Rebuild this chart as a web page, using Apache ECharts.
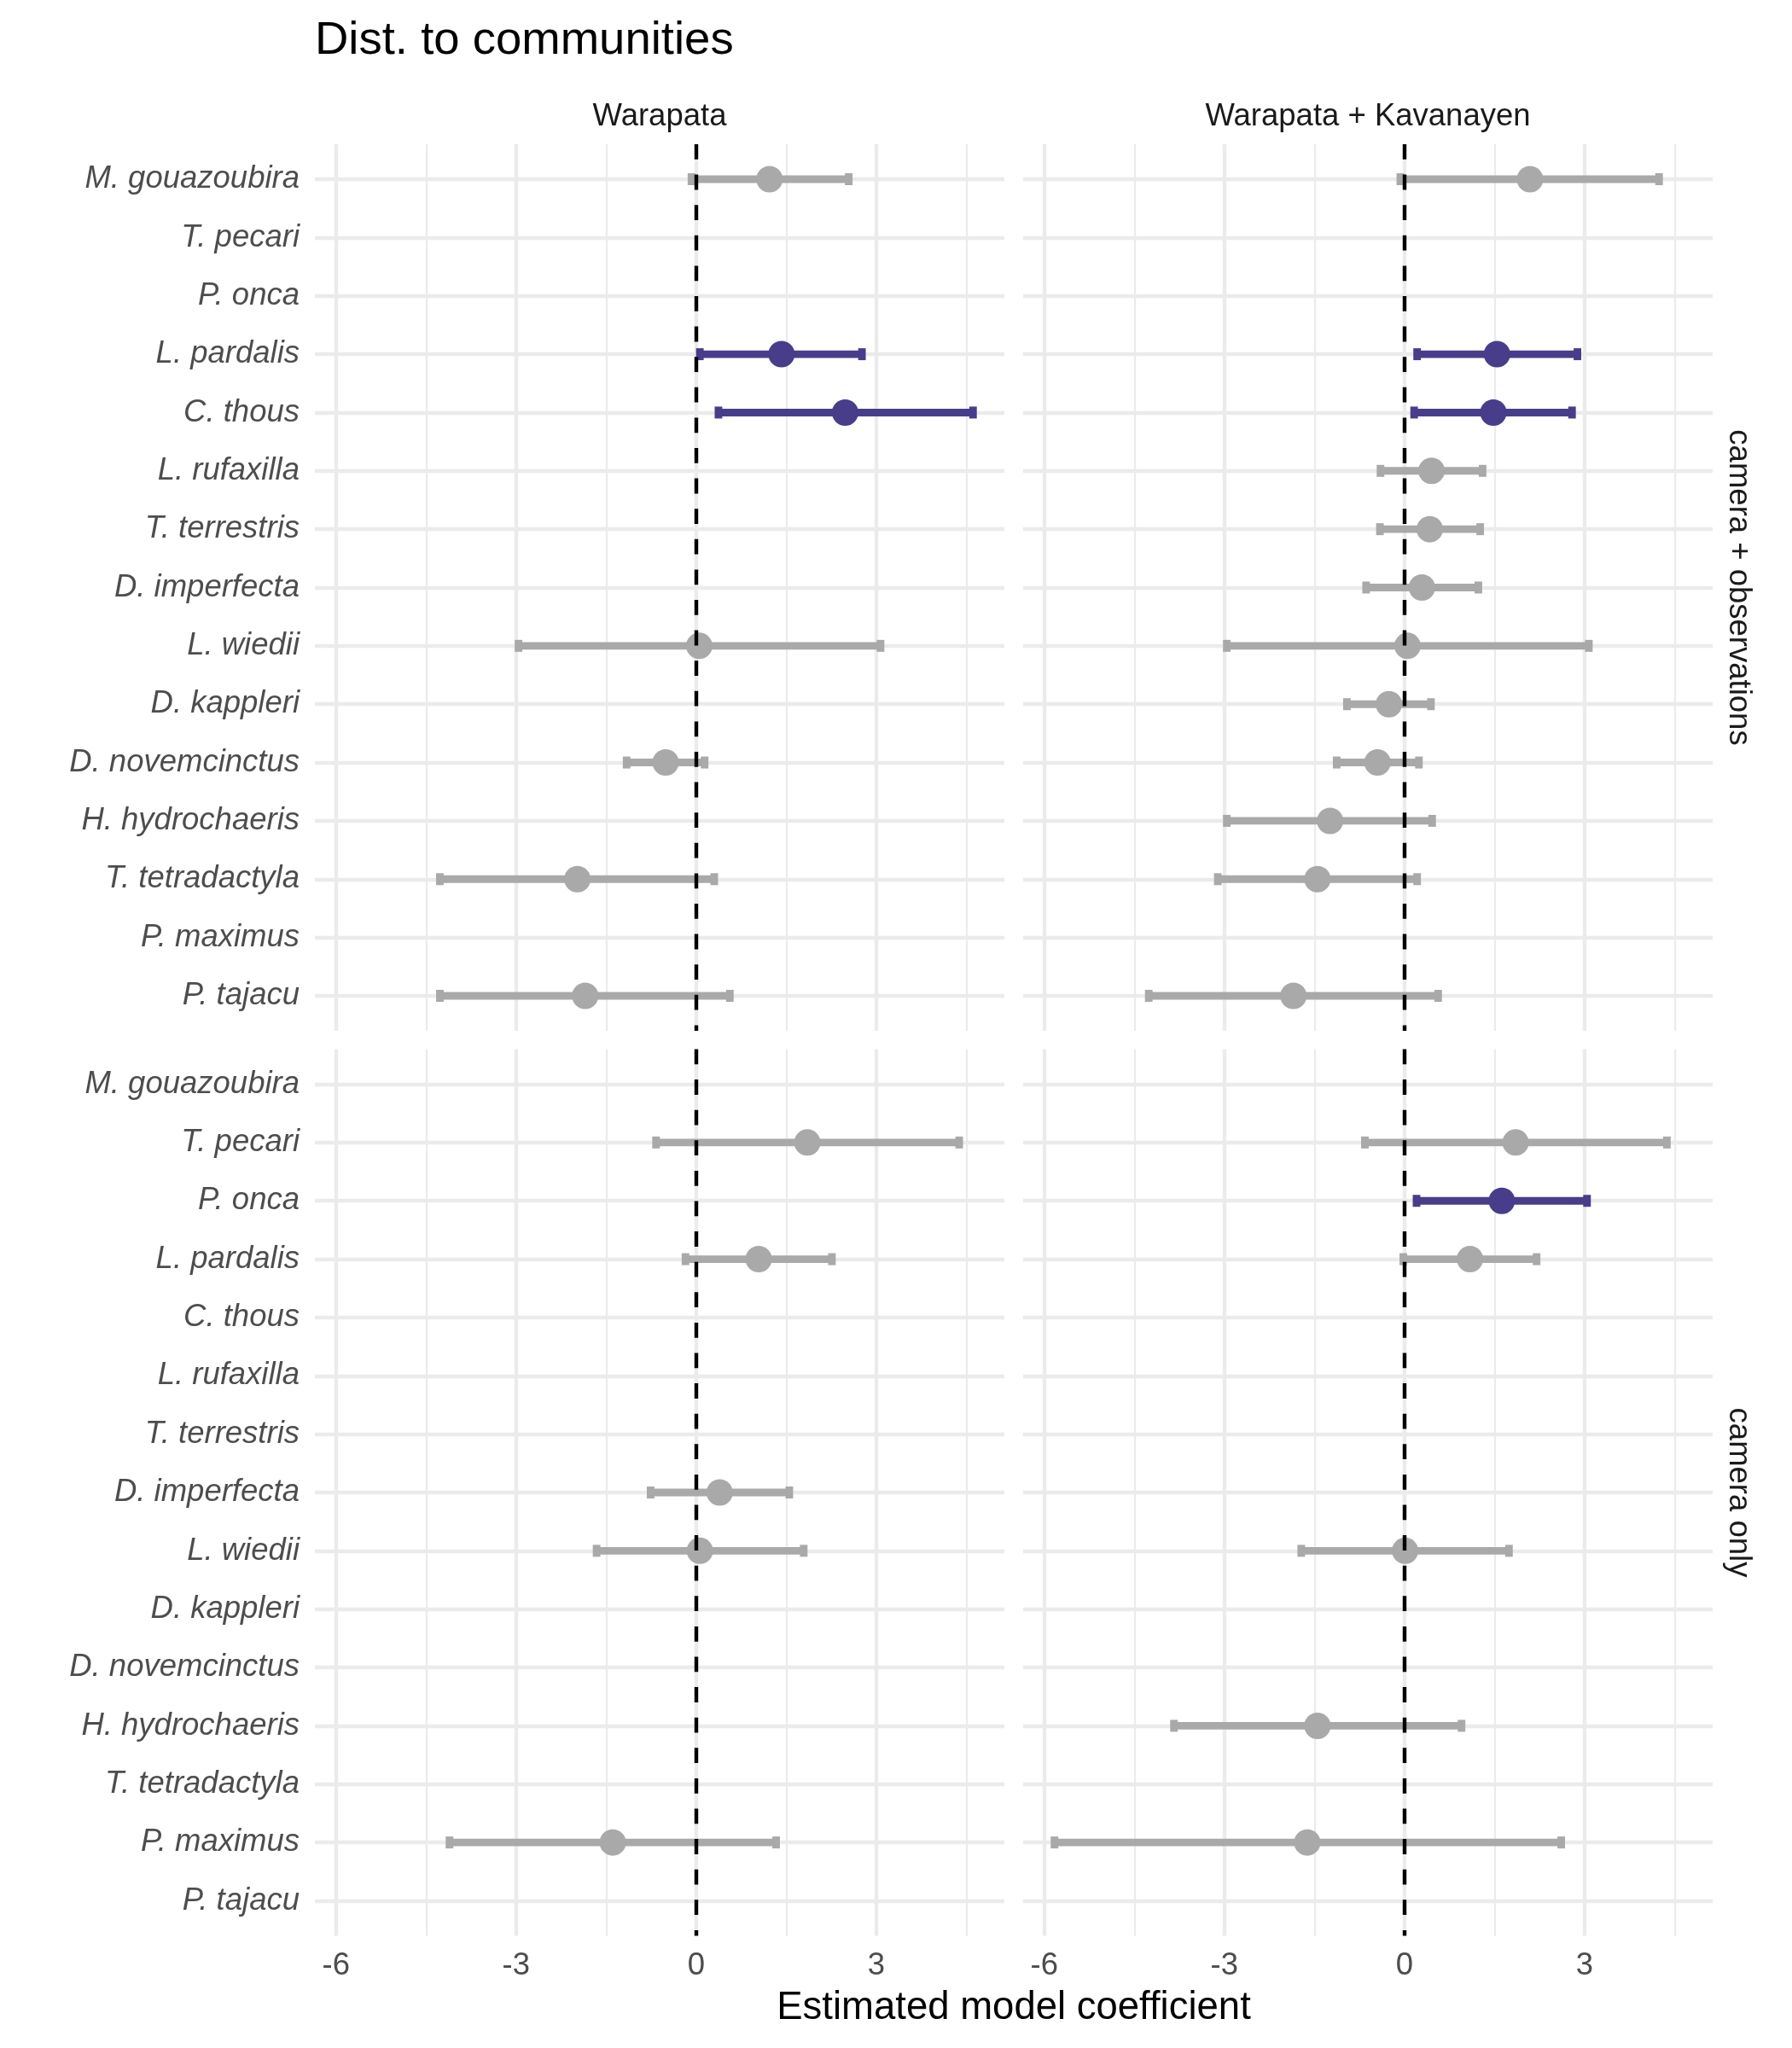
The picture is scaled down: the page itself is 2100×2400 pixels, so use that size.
<!DOCTYPE html>
<html><head><meta charset="utf-8">
<script src="https://cdn.jsdelivr.net/npm/echarts@6/dist/echarts.min.js"></script>
<style>html,body{margin:0;padding:0;background:#fff}#c{width:2100px;height:2400px}</style>
</head><body><div id="c"></div>
<script>
const species = ["M. gouazoubira","T. pecari","P. onca","L. pardalis","C. thous","L. rufaxilla","T. terrestris","D. imperfecta","L. wiedii","D. kappleri","D. novemcinctus","H. hydrochaeris","T. tetradactyla","P. maximus","P. tajacu"];
const columnLabels = ["Warapata", "Warapata + Kavanayen"];
const rowLabels = ["camera + observations", "camera only"];
const chartTitle = "Dist. to communities";
const xAxisTitle = "Estimated model coefficient";
const xTickValues = [-6, -3, 0, 3];
const xMinorValues = [-4.5, -1.5, 1.5, 4.5];

// camera + observations, Warapata
const obsWarEst = [1.22, null, null, 1.42, 2.48, null, null, null, 0.05, null, -0.51, null, -1.98, null, -1.85];
const obsWarLo  = [-0.08, null, null, 0.06, 0.37, null, null, null, -2.96, null, -1.16, null, -4.27, null, -4.27];
const obsWarHi  = [2.54, null, null, 2.76, 4.61, null, null, null, 3.07, null, 0.14, null, 0.30, null, 0.56];
// camera + observations, Warapata + Kavanayen
const obsKavEst = [2.09, null, null, 1.54, 1.48, 0.45, 0.42, 0.29, 0.05, -0.26, -0.45, -1.24, -1.45, null, -1.85];
const obsKavLo  = [-0.07, null, null, 0.21, 0.16, -0.40, -0.41, -0.64, -2.96, -0.96, -1.13, -2.96, -3.11, null, -4.26];
const obsKavHi  = [4.24, null, null, 2.88, 2.79, 1.30, 1.26, 1.23, 3.07, 0.44, 0.24, 0.46, 0.21, null, 0.56];
// camera only, Warapata
const camWarEst = [null, 1.85, null, 1.04, null, null, null, 0.39, 0.06, null, null, null, null, -1.39, null];
const camWarLo  = [null, -0.67, null, -0.18, null, null, null, -0.76, -1.66, null, null, null, null, -4.11, null];
const camWarHi  = [null, 4.38, null, 2.26, null, null, null, 1.55, 1.79, null, null, null, null, 1.33, null];
// camera only, Warapata + Kavanayen
const camKavEst = [null, 1.85, 1.62, 1.09, null, null, null, null, 0.01, null, null, -1.45, null, -1.62, null];
const camKavLo  = [null, -0.66, 0.20, -0.02, null, null, null, null, -1.72, null, null, -3.84, null, -5.83, null];
const camKavHi  = [null, 4.37, 3.04, 2.20, null, null, null, null, 1.74, null, null, 0.95, null, 2.61, null];

const panels = [
  {est: obsWarEst, lo: obsWarLo, hi: obsWarHi},
  {est: obsKavEst, lo: obsKavLo, hi: obsKavHi},
  {est: camWarEst, lo: camWarLo, hi: camWarHi},
  {est: camKavEst, lo: camKavLo, hi: camKavHi}
];

const GRAY = '#A9A9A9', PURPLE = '#483D8B', GRIDC = '#EBEBEB';
const FONT = 'Liberation Sans';
const panelLeft = [369, 1199], panelWidth = 808, panelTop = [169, 1229.5], panelHeight = 1039;

// shared x scale with 5% expansion like the original
const allLo = panels.flatMap(p => p.lo.filter(v => v !== null));
const allHi = panels.flatMap(p => p.hi.filter(v => v !== null));
const dMin = Math.min(...allLo), dMax = Math.max(...allHi);
const pad = 0.05 * (dMax - dMin);
const xMin = dMin - pad, xMax = dMax + pad;
const rowIdx = species.map((_, k) => k);

const grids = [], xAxes = [], yAxes = [], series = [];
panels.forEach((p, i) => {
  const col = i % 2, row = Math.floor(i / 2);
  grids.push({left: panelLeft[col], top: panelTop[row], width: panelWidth, height: panelHeight});
  xAxes.push({gridIndex: i, type: 'value', min: xMin, max: xMax,
    axisLine: {show: false}, axisTick: {show: false, customValues: xTickValues},
    axisLabel: {show: row === 1, customValues: xTickValues, color: '#4D4D4D', fontSize: 36.5, fontFamily: FONT, margin: 35.5, verticalAlign: 'middle'},
    splitLine: {show: true, lineStyle: {color: GRIDC, width: 4.4}}});
  xAxes.push({gridIndex: i, type: 'value', min: xMin, max: xMax,
    axisLine: {show: false}, axisTick: {show: false, customValues: xMinorValues},
    axisLabel: {show: false},
    splitLine: {show: true, lineStyle: {color: GRIDC, width: 2.2}}});
  yAxes.push({gridIndex: i, type: 'value', inverse: true, min: -0.6, max: species.length - 0.4,
    axisLine: {show: false}, axisTick: {show: false, customValues: rowIdx},
    axisLabel: {show: col === 0, customValues: rowIdx, formatter: v => species[Math.round(v)],
      color: '#4D4D4D', fontSize: 36.5, fontFamily: FONT, fontStyle: 'italic', margin: 18, padding: [4, 0, 0, 0]},
    splitLine: {show: true, lineStyle: {color: GRIDC, width: 4.4}}});

  const rows = rowIdx.filter(k => p.est[k] !== null);
  const colors = rows.map(k => (p.lo[k] > 0 || p.hi[k] < 0) ? PURPLE : GRAY);
  series.push({type: 'custom', xAxisIndex: 2 * i, yAxisIndex: i, z: 3, silent: true, animation: false,
    data: rows.map(k => [p.lo[k], p.hi[k], k]),
    encode: {x: [0, 1], y: 2},
    renderItem: (params, api) => {
      const a = api.coord([api.value(0), api.value(2)]);
      const b = api.coord([api.value(1), api.value(2)]);
      const c = colors[params.dataIndex];
      const lw = 8.9, ch = 14;
      return {type: 'group', children: [
        {type: 'line', shape: {x1: a[0], y1: a[1], x2: b[0], y2: b[1]}, style: {stroke: c, lineWidth: lw, lineCap: 'butt'}},
        {type: 'rect', shape: {x: a[0] - lw / 2, y: a[1] - ch / 2, width: lw, height: ch}, style: {fill: c}},
        {type: 'rect', shape: {x: b[0] - lw / 2, y: b[1] - ch / 2, width: lw, height: ch}, style: {fill: c}}
      ]};
    }});
  series.push({type: 'scatter', xAxisIndex: 2 * i, yAxisIndex: i, z: 4, silent: true, animation: false,
    symbol: 'circle', symbolSize: 31,
    data: rows.map((k, j) => ({value: [p.est[k], k], itemStyle: {color: colors[j], opacity: 1}}))});
  series.push({type: 'line', xAxisIndex: 2 * i, yAxisIndex: i, z: 6, data: [], animation: false,
    markLine: {silent: true, symbol: ['none', 'none'], label: {show: false}, animation: false,
      lineStyle: {color: '#000', width: 4.4, type: [17.8, 17.8], opacity: 1},
      emphasis: {disabled: true},
      data: [{xAxis: 0}]}});
});

const colCenter = c => panelLeft[c] + panelWidth / 2;
const rowCenter = r => panelTop[r] + panelHeight / 2;
const graphic = [
  {type: 'text', x: panelLeft[0], y: 48, style: {text: chartTitle, font: '54.5px "Liberation Sans"', fill: '#000', align: 'left', verticalAlign: 'middle'}},
  {type: 'text', x: colCenter(0), y: 137, style: {text: columnLabels[0], font: '36.5px "Liberation Sans"', fill: '#1A1A1A', align: 'center', verticalAlign: 'middle'}},
  {type: 'text', x: colCenter(1), y: 137, style: {text: columnLabels[1], font: '36.5px "Liberation Sans"', fill: '#1A1A1A', align: 'center', verticalAlign: 'middle'}},
  {type: 'text', x: 2037, y: rowCenter(0), rotation: -Math.PI / 2, style: {text: rowLabels[0], font: '36.5px "Liberation Sans"', fill: '#1A1A1A', align: 'center', verticalAlign: 'middle'}},
  {type: 'text', x: 2037, y: rowCenter(1), rotation: -Math.PI / 2, style: {text: rowLabels[1], font: '36.5px "Liberation Sans"', fill: '#1A1A1A', align: 'center', verticalAlign: 'middle'}},
  {type: 'text', x: (panelLeft[0] + panelLeft[1] + panelWidth) / 2, y: 2353, style: {text: xAxisTitle, font: '45.5px "Liberation Sans"', fill: '#000', align: 'center', verticalAlign: 'middle'}}
];

const chart = echarts.init(document.getElementById('c'), null, {renderer: 'canvas'});
chart.setOption({
  animation: false,
  backgroundColor: '#fff',
  textStyle: {fontFamily: FONT},
  grid: grids, xAxis: xAxes, yAxis: yAxes, series: series, graphic: graphic
});
</script></body></html>
